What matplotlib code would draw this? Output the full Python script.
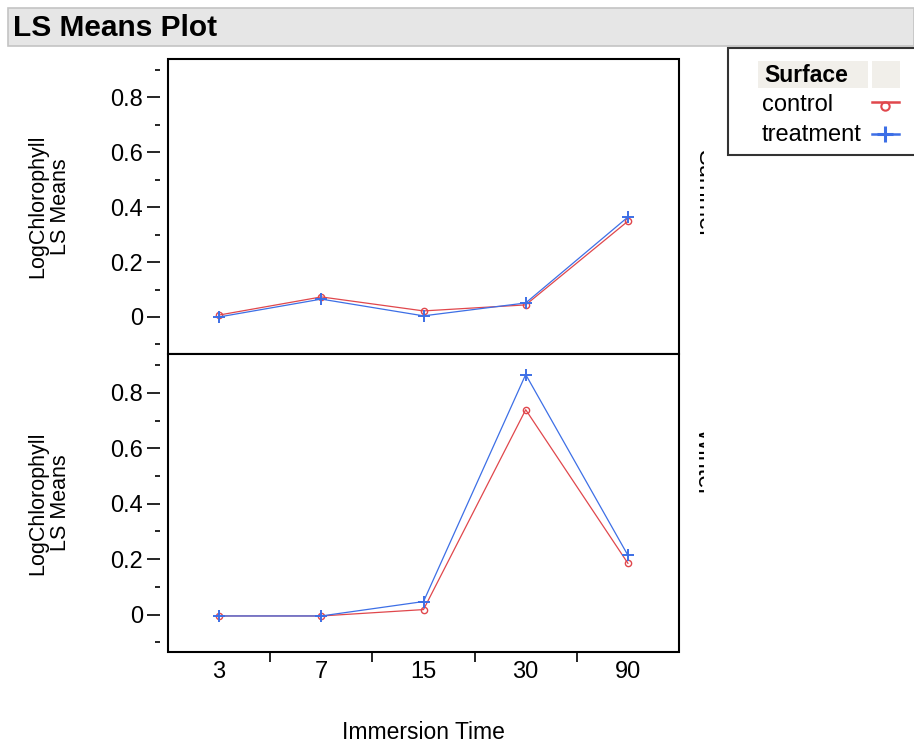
import numpy as np
import matplotlib.pyplot as plt
from matplotlib.patches import Rectangle
from matplotlib.lines import Line2D
from matplotlib.transforms import Bbox, TransformedBbox

plt.rcParams['font.family'] = ['Liberation Sans', 'DejaVu Sans']

# data
times = ['3', '7', '15', '30', '90']
panels = ['Summer', 'Winter']
control_summer = [0.007, 0.073, 0.022, 0.044, 0.349]
treatment_summer = [0.000, 0.065, 0.004, 0.051, 0.364]
control_winter = [-0.005, -0.005, 0.018, 0.739, 0.185]
treatment_winter = [-0.005, -0.005, 0.047, 0.866, 0.214]
yticks = [0, 0.2, 0.4, 0.6, 0.8]
yminor = [-0.1, 0.1, 0.3, 0.5, 0.7, 0.9]

red = '#e0474c'
blue = '#3d6fe6'

W, H = 914, 746
fig = plt.figure(figsize=(W / 100, H / 100), dpi=100)


def fx(px):
    return px / W


def fy(py):
    return 1 - py / H


# title band
fig.patches.append(Rectangle((fx(8), fy(46)), fx(914) - fx(8), fy(8) - fy(46),
                             transform=fig.transFigure, facecolor='#e6e6e6',
                             edgecolor='#c4c4c4', lw=1.2))
fig.text(fx(13), fy(28), 'LS Means Plot', fontsize=21.5, fontweight='bold',
         va='center', ha='left')

left, right = 168, 679
tops = [59, 354]
bots = [354, 652]
x = np.arange(len(times))
series = [(control_summer, treatment_summer), (control_winter, treatment_winter)]

axes = []
for i in range(2):
    ax = fig.add_axes([fx(left), fy(bots[i]), fx(right) - fx(left), fy(tops[i]) - fy(bots[i])])
    ctrl, trt = series[i]
    ax.plot(x, ctrl, color=red, lw=0.9, marker='o', ms=4.5, mfc='none', mec=red, mew=1.0)
    ax.plot(x, trt, color=blue, lw=0.9, marker='+', ms=9, mec=blue, mew=1.4)
    ax.set_xlim(-0.5, 4.5)
    ax.set_ylim(-0.135, 0.94)
    for s in ax.spines.values():
        s.set_visible(False)
    ax.spines['left'].set_position(('outward', 5.5))
    ax.add_patch(Rectangle((0, 0), 1, 1, transform=ax.transAxes, fill=False,
                           edgecolor='black', lw=1.5, clip_on=False, zorder=5))
    ax.set_yticks(yticks)
    ax.set_yticklabels(['0', '0.2', '0.4', '0.6', '0.8'])
    ax.set_yticks(yminor, minor=True)
    ax.tick_params(axis='y', which='major', length=9.5, width=1.2, labelsize=17, pad=3)
    ax.tick_params(axis='y', which='minor', length=3.6, width=1.2)
    ax.set_ylabel('LogChlorophyll\nLS Means', fontsize=15.5, linespacing=1.12)
    ax.yaxis.set_label_coords(-0.19, 0.5)
    if i == 0:
        ax.set_xticks([])
    else:
        ax.set_xticks(x)
        ax.set_xticklabels(times)
        ax.set_xticks([0.5, 1.5, 2.5, 3.5], minor=True)
        ax.tick_params(axis='x', which='major', length=0, labelsize=17, pad=6.5)
        ax.tick_params(axis='x', which='minor', length=7.2, width=1.2)
        ax.set_xlabel('Immersion Time', fontsize=16.5, labelpad=27)
    axes.append(ax)

# clipped panel labels on the right side
clip = TransformedBbox(Bbox.from_extents(fx(690), 0, fx(704), 1), fig.transFigure)
for lab, ytop in zip(panels, [150, 428]):
    t = fig.text(fx(693), fy(ytop), lab, rotation=-90, fontsize=17,
                 ha='left', va='top')
    t.set_clip_on(True)
    t.set_clip_box(clip)

# legend
fig.patches.append(Rectangle((fx(728), fy(155)), fx(920) - fx(728), fy(48) - fy(155),
                             transform=fig.transFigure, facecolor='white',
                             edgecolor='#333333', lw=1.5))
fig.patches.append(Rectangle((fx(758), fy(88)), fx(868) - fx(758), fy(61) - fy(88),
                             transform=fig.transFigure, facecolor='#f1efea', edgecolor='none'))
fig.patches.append(Rectangle((fx(872), fy(88)), fx(900) - fx(872), fy(61) - fy(88),
                             transform=fig.transFigure, facecolor='#f1efea', edgecolor='none'))
fig.text(fx(764), fy(75), 'Surface', fontsize=16.5, fontweight='bold', va='center')
fig.text(fx(762), fy(105), 'control', fontsize=17, va='center')
fig.text(fx(762), fy(135), 'treatment', fontsize=17, va='center')
fig.lines.append(Line2D([fx(872), fx(899)], [fy(102), fy(102)], transform=fig.transFigure,
                        color=red, lw=1.8))
fig.lines.append(Line2D([fx(885)], [fy(106)], transform=fig.transFigure, marker='o',
                        ms=6, mfc='none', mec=red, mew=1.5))
fig.lines.append(Line2D([fx(872), fx(899)], [fy(134), fy(134)], transform=fig.transFigure,
                        color=blue, lw=1.8))
fig.lines.append(Line2D([fx(885)], [fy(134)], transform=fig.transFigure, marker='+',
                        ms=11, mec=blue, mew=2.2))

fig.savefig('out.png', dpi=100)
